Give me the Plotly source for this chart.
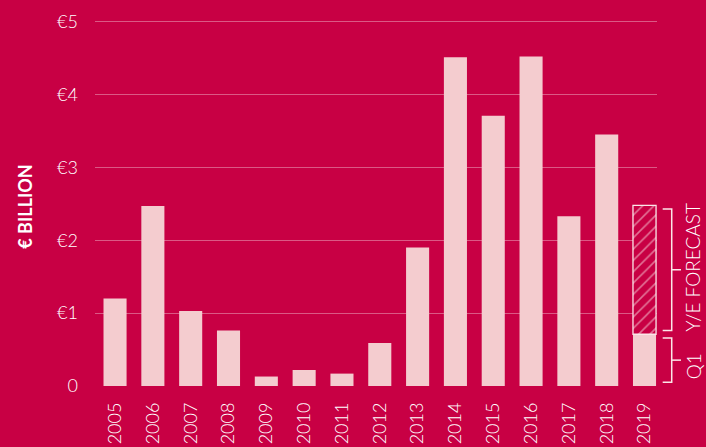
import plotly.graph_objects as go

years = ["2005", "2006", "2007", "2008", "2009", "2010", "2011", "2012",
         "2013", "2014", "2015", "2016", "2017", "2018", "2019"]
values = [1.20, 2.47, 1.03, 0.76, 0.13, 0.22, 0.17, 0.59,
          1.90, 4.51, 3.71, 4.52, 2.33, 3.45, 0.71]
forecast_year = "2019"
forecast_total = 2.48
q1_value = values[-1]
y_ticks = [0, 1, 2, 3, 4, 5]
y_tick_labels = ["0", "€1", "€2", "€3", "€4", "€5"]

BG = "#C80044"
BAR = "#F4CCCF"
LIGHT = "#FBE6E8"
GRID = "rgba(255,255,255,0.35)"
FONT = "Lato"
W = 300

fig = go.Figure()
fig.add_trace(go.Bar(x=years, y=values, marker=dict(color=BAR, line=dict(width=0)),
                     width=0.61, hoverinfo="x+y"))
fig.add_trace(go.Bar(x=[forecast_year], y=[forecast_total - q1_value], base=[q1_value],
                     width=0.61,
                     marker=dict(color=BG, line=dict(color=LIGHT, width=1.3),
                                 pattern=dict(shape="/", fgcolor=LIGHT, bgcolor=BG,
                                              size=8, solidity=0.2))))

n = len(years)
fig.update_layout(
    width=706, height=447,
    paper_bgcolor=BG, plot_bgcolor=BG,
    margin=dict(l=95, r=49, t=18, b=61, pad=0, autoexpand=False),
    showlegend=False, barmode="overlay",
    font=dict(family=FONT, color="white", size=18, weight=W),
    xaxis=dict(type="category", range=[-0.53, n - 1 + 0.33], showgrid=False,
               showline=False, zeroline=False, ticks="", tickangle=-90, automargin=False,
               tickfont=dict(size=18, color="white", family=FONT, weight=W),
               ticklabelstandoff=12),
    yaxis=dict(range=[0, 5.05], tickvals=y_ticks, ticktext=y_tick_labels, automargin=False,
               showgrid=True, gridcolor=GRID, gridwidth=1, zeroline=False,
               showline=False, ticks="", ticklabelstandoff=16,
               tickfont=dict(size=18, color="white", family=FONT, weight=W)),
)

# baseline
fig.add_shape(type="line", xref="paper", yref="y", x0=0, x1=1.0107, y0=-0.015, y1=-0.015,
              line=dict(color="white", width=2.2), layer="above")

# brackets
inset = 0.05
bx0, bx1, bx2 = 1.0101, 1.0262, 1.0427
def bracket(y0, y1):
    fig.add_shape(type="path", xref="paper", yref="y",
                  path=f"M {bx0},{y1} L {bx1},{y1} L {bx1},{y0} L {bx0},{y0}",
                  line=dict(color=LIGHT, width=1.5), layer="above")
    ym = (y0 + y1) / 2
    fig.add_shape(type="line", xref="paper", yref="y", x0=bx1, x1=bx2, y0=ym, y1=ym,
                  line=dict(color=LIGHT, width=1.5), layer="above")

bracket(q1_value + inset, forecast_total - inset)
bracket(0.05, q1_value - inset)

fig.add_annotation(text="Y/E FORECAST", xref="paper", yref="y", x=1.064, xanchor="center",
                   yanchor="middle", y=(q1_value + forecast_total) / 2 + 0.04,
                   textangle=-90, showarrow=False,
                   font=dict(size=19, color="white", family=FONT, weight=W))
fig.add_annotation(text="Q1", xref="paper", yref="y", x=1.064, xanchor="center",
                   yanchor="middle", y=0.27, textangle=-90, showarrow=False,
                   font=dict(size=19, color="white", family=FONT, weight=W))
fig.add_annotation(text="€ BILLION", xref="paper", yref="y", x=-0.1246, xanchor="center",
                   yanchor="middle", y=2.46, textangle=-90, showarrow=False,
                   font=dict(size=18, color="white", family=FONT, weight="bold"))

fig.write_html("out.html", config={"displayModeBar": False},
               post_script="document.body.style.margin='0';")
